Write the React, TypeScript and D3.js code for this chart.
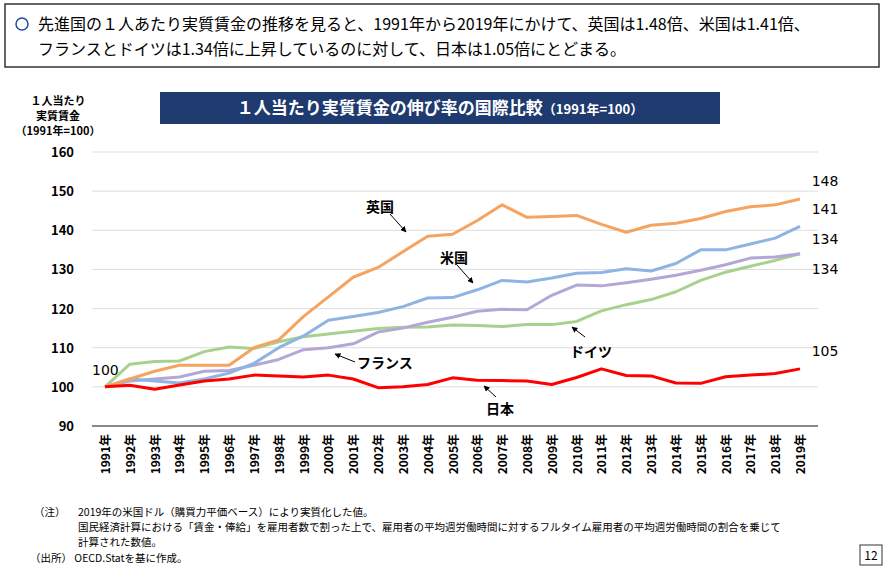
import React from 'react'
import * as d3 from 'd3'

const years = d3.range(1991, 2020)
const uk = [100,102,104,105.5,105.5,105.5,110,112,118,123,128,130.5,134.5,138.5,139,142.5,146.5,143.3,143.5,143.8,141.5,139.5,141.3,141.8,143,144.8,146,146.5,148]
const us = [100,102,101.5,101,102,103.5,106,110,113,117,118,119,120.5,122.7,122.8,124.8,127.2,126.8,127.8,129,129.2,130.2,129.6,131.5,135,135,136.5,138,141]
const fr = [100,101.5,102,102.5,104,104.2,105.5,107,109.5,110,111,114,115,116.5,117.8,119.3,119.8,119.7,123.4,126,125.8,126.6,127.5,128.5,129.8,131.2,132.9,133.2,134]
const de = [100,105.8,106.5,106.6,109,110.2,109.8,111.5,112.8,113.5,114.2,114.9,115.2,115.3,115.8,115.7,115.4,115.9,115.9,116.7,119.4,121,122.3,124.3,127.2,129.3,130.8,132.3,134]
const jp = [100,100.4,99.4,100.5,101.5,102,103,102.8,102.5,103,102,99.8,100,100.6,102.3,101.7,101.6,101.5,100.6,102.4,104.6,102.9,102.8,101,100.9,102.6,103,103.4,104.6]
const yTicks = [90, 100, 110, 120, 130, 140, 150, 160]

const series = [
  { v: de, c: '#a9d18e' },
  { v: fr, c: '#b4a7d6' },
  { v: us, c: '#8db4e2' },
  { v: uk, c: '#f4a460' },
  { v: jp, c: '#ff0000' },
]

const font = '"Noto Sans CJK JP", sans-serif'

export default function App() {
  const x = d3.scaleLinear().domain([1991, 2019]).range([105, 800])
  const y = d3.scaleLinear().domain([90, 160]).range([426, 152])
  const line = d3.line<number>().x((_, i) => x(years[i])).y(d => y(d))

  const arrow = (x1, y1, x2, y2) => (
    <line x1={x1} y1={y1} x2={x2} y2={y2} stroke="#000" strokeWidth={1} markerEnd="url(#ah)" />
  )
  const last = years.length - 1

  return (
    <svg width={886} height={568} style={{ position: 'absolute', left: 0, top: 0, fontFamily: font }}>
      <defs>
        <marker id="ah" viewBox="0 0 10 10" refX="9" refY="5" markerWidth="6" markerHeight="6" orient="auto">
          <path d="M0,0L10,5L0,10z" fill="#000" />
        </marker>
      </defs>
      <rect width={886} height={568} fill="#fff" />
      <rect x={5} y={4} width={874} height={63} fill="#fff" stroke="#333" strokeWidth={1.5} />
      <circle cx={22} cy={24} r={6} fill="none" stroke="#1f4e9e" strokeWidth={1.5} />
      <text x={38} y={30} fontSize={16}>先進国の１人あたり実質賃金の推移を見ると、1991年から2019年にかけて、英国は1.48倍、米国は1.41倍、</text>
      <text x={38} y={55} fontSize={16}>フランスとドイツは1.34倍に上昇しているのに対して、日本は1.05倍にとどまる。</text>

      <rect x={160} y={92} width={560} height={32} fill="#1f3a6e" />
      <text x={440} y={114} fill="#fff" fontSize={17} fontWeight="bold" textAnchor="middle">
        １人当たり実質賃金の伸び率の国際比較<tspan fontSize={13}>（1991年=100）</tspan>
      </text>

      <g fontSize={11} fontWeight="bold" textAnchor="middle">
        <text x={58} y={105}>１人当たり</text>
        <text x={58} y={120}>実質賃金</text>
        <text x={58} y={135}>（1991年=100）</text>
      </g>

      {yTicks.map(t => (
        <g key={t}>
          <line x1={92} x2={818} y1={y(t)} y2={y(t)} stroke={t === 90 ? '#888' : '#ddd'} strokeWidth={t === 90 ? 2 : 1} />
          <text x={74} y={y(t) + 5} fontSize={13} fontWeight="bold" textAnchor="end">{t}</text>
        </g>
      ))}
      {years.map(yr => (
        <text key={yr} transform={`translate(${x(yr) + 5},434) rotate(-90)`} fontSize={12} fontWeight="bold" textAnchor="end">{yr}年</text>
      ))}

      {series.map((s, i) => (
        <path key={i} d={line(s.v) || ''} fill="none" stroke={s.c} strokeWidth={3} strokeLinejoin="round" />
      ))}

      <g fontSize={14} fontFamily="'DejaVu Sans', sans-serif">
        <text x={92} y={375}>100</text>
        <text x={825} y={186} textAnchor="middle">148</text>
        <text x={825} y={214} textAnchor="middle">141</text>
        <text x={825} y={244} textAnchor="middle">134</text>
        <text x={825} y={274} textAnchor="middle">134</text>
        <text x={825} y={356} textAnchor="middle">105</text>
      </g>

      <g fontSize={14} fontWeight="bold">
        <text x={366} y={212}>英国</text>
        {arrow(390, 214, 406, 232)}
        <text x={440} y={263}>米国</text>
        {arrow(457, 265, 473, 283)}
        <text x={357} y={368}>フランス</text>
        {arrow(355, 362, 335, 354)}
        <text x={570} y={357}>ドイツ</text>
        {arrow(585, 337, 572, 327)}
        <text x={486} y={414}>日本</text>
        {arrow(496, 397, 484, 386)}
      </g>

      <g fontSize={10.5}>
        <text x={34} y={516}>（注）</text>
        <text x={78} y={516}>2019年の米国ドル（購買力平価ベース）により実質化した値。</text>
        <text x={78} y={531}>国民経済計算における「賃金・俸給」を雇用者数で割った上で、雇用者の平均週労働時間に対するフルタイム雇用者の平均週労働時間の割合を乗じて</text>
        <text x={78} y={546}>計算された数値。</text>
        <text x={30} y={562}>（出所）  OECD.Statを基に作成。</text>
      </g>
      <rect x={860} y={545} width={22} height={20} fill="#fff" stroke="#333" />
      <text x={871} y={560} fontSize={12} textAnchor="middle">12</text>
    </svg>
  )
}
